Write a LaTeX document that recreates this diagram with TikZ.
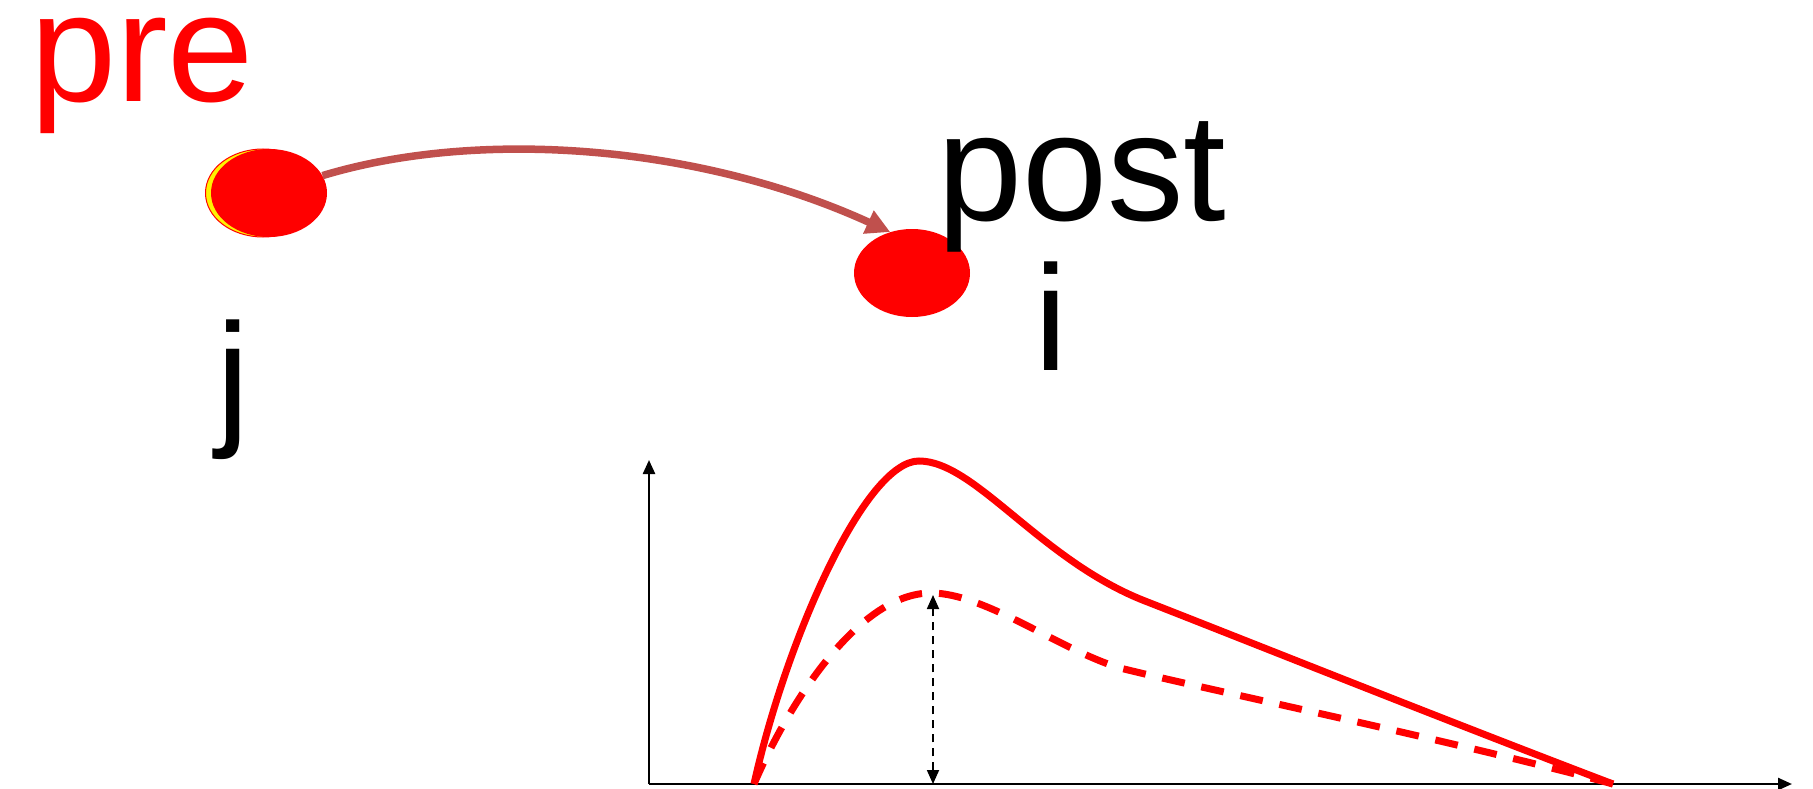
\documentclass[tikz,border=0pt]{standalone}
\usepackage{fontspec}
\setmainfont{Liberation Sans}
\usetikzlibrary{shapes.geometric,arrows.meta}
\definecolor{arrowred}{HTML}{C0504D}
\tikzset{
  dot/.style={ellipse, fill=red, inner sep=0pt, minimum width=116pt, minimum height=88pt},
  bigtext/.style={anchor=base west, inner sep=0pt},
  axis/.style={line width=2.4pt, -{Triangle[width=12pt,length=14pt]}},
  curve/.style={red, line width=7pt},
}
\begin{document}
\begin{tikzpicture}[x=1pt,y=-1pt]
\useasboundingbox (0,0) rectangle (1813,789);
% pre dot with yellow crescent
\node[ellipse, fill=yellow, draw=red, line width=1pt, inner sep=0pt, minimum width=115pt, minimum height=88pt] (preshadow) at (263,193) {};
\node[dot] (pre) at (269,193) {};
\node[dot] (post) at (912,273) {};
% labels
\node[bigtext, text=red, text height=85pt, font=\fontsize{155}{155}\selectfont] (pretxt) at (30,102) {pre};
\node[bigtext, font=\fontsize{153}{153}\selectfont] (posttxt) at (937,220) {post};
\node[bigtext, font=\fontsize{150}{150}\selectfont] (itxt) at (1034,370) {i};
\node[bigtext, font=\fontsize{150}{150}\selectfont] (jtxt) at (216,428) {j};
% synapse arrow
\draw[arrowred, line width=7.5pt, -{Triangle[width=24pt,length=24pt]}]
  (pre.18) .. controls (480,128) and (700,145) .. (post.118);
% axes
\coordinate (origin) at (649,784);
\coordinate (ytop) at (649,460);
\coordinate (xend) at (1792,784);
\draw[axis] (origin) -- (ytop);
\draw[axis] (origin) -- (xend);
% solid curve
\coordinate (s0) at (754,784);
\coordinate (s1) at (919,461);
\coordinate (s2) at (1145,601);
\coordinate (s3) at (1613,784);
\draw[curve] (s0) .. controls (786,640) and (865,461) .. (s1)
  .. controls (975,461) and (1040,560) .. (s2)
  .. controls (1260,646) and (1450,722) .. (s3);
% dashed curve
\coordinate (d1) at (931,593);
\coordinate (d2) at (1120,668);
\draw[curve, dash pattern=on 23pt off 17pt] (s0) .. controls (790,700) and (860,593) .. (d1)
  .. controls (985,593) and (1060,650) .. (d2)
  .. controls (1200,688) and (1450,740) .. (s3);
% amplitude arrow
\coordinate (ampTop) at (933,595);
\coordinate (ampBot) at (933,784);
\draw[line width=1.8pt, dash pattern=on 8pt off 6pt, {Triangle[width=12pt,length=14pt]}-{Triangle[width=12pt,length=14pt]}] (ampBot) -- (ampTop);
\end{tikzpicture}
\end{document}
